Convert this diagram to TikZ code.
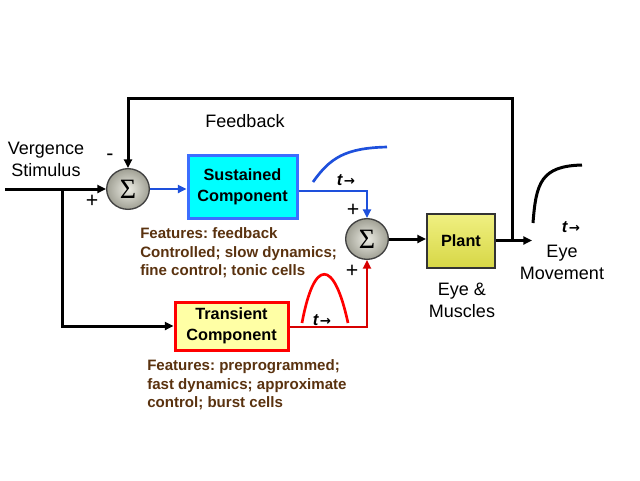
\documentclass[tikz,border=0pt]{standalone}
\usepackage{fontspec}
\setmainfont{Liberation Sans}
\newfontfamily\sigfont{Liberation Serif}
\newfontfamily\arrfont{DejaVu Sans}
\usetikzlibrary{arrows.meta,shapes.geometric}
\definecolor{sumin}{RGB}{236,236,228}
\definecolor{sumout}{RGB}{160,160,148}
\definecolor{susblue}{RGB}{60,110,255}
\definecolor{susfill}{RGB}{0,255,255}
\definecolor{linblue}{RGB}{30,80,220}
\definecolor{plantTop}{RGB}{240,240,130}
\definecolor{plantBot}{RGB}{215,215,70}
\definecolor{transfill}{RGB}{255,255,165}
\definecolor{featbrown}{RGB}{90,50,15}
\definecolor{linred}{RGB}{215,0,0}
\definecolor{curvered}{RGB}{255,0,0}
\frenchspacing
\begin{document}
\begin{tikzpicture}[x=0.75pt,y=-0.75pt,
  line/.style={line width=2.25pt,black},
  bline/.style={line width=2pt,linblue},
  rline/.style={line width=2pt,linred},
  arr/.style={-{Triangle[length=6.5pt,width=6pt]}},
  sumnode/.style={ellipse, draw=black!75, line width=1pt, inner color=sumin, outer color=sumout,
    minimum width=32pt, minimum height=30.5pt, inner sep=0pt, font=\sigfont\fontsize{21}{21}\selectfont},
  lbl/.style={font=\fontsize{13.5}{16.5}\selectfont, align=center, inner sep=0pt},
  boxlbl/.style={font=\bfseries\fontsize{12.2}{15.75}\selectfont, align=center},
  feat/.style={font=\bfseries\fontsize{11.3}{13.9}\selectfont, align=left, text=featbrown, anchor=west, inner sep=0pt},
  pm/.style={font=\fontsize{16}{16}\selectfont, inner sep=0pt},
  tlab/.style={font=\bfseries\itshape\fontsize{12.5}{12.5}\selectfont, inner sep=0pt}
]
\fill[white] (0,0) rectangle (640,480);

% nodes
\node[sumnode] (s1) at (128,189) {Σ};
\node[sumnode] (s2) at (367,239) {Σ};
\node[draw=susblue, line width=2.25pt, fill=susfill, minimum width=81.75pt, minimum height=47.25pt, boxlbl] (sus) at (242.5,187) {Sustained\\Component};
\node[draw=black!80, line width=1.5pt, top color=plantTop, bottom color=plantBot, minimum width=51pt, minimum height=40.5pt, boxlbl] (plant) at (461,240.5) {Plant};
\node[draw=red, line width=2.25pt, fill=transfill, minimum width=84.75pt, minimum height=36pt, boxlbl] (tr) at (231.5,326) {Transient\\Component};

% coordinates
\coordinate (in) at (5,189);
\coordinate (br) at (62,189);
\coordinate (brd) at (62,326);
\coordinate (fbl1) at (128,98);
\coordinate (fbr1) at (512,98);
\coordinate (fb) at (512,240.5);
\coordinate (out) at (532,240.5);
\coordinate (jb) at (367,191);
\coordinate (jr) at (367,327);

% connectors
\draw[line,arr] (in) -- (s1);
\draw[line,arr] (br) -- (brd) -- (tr.west |- brd);
\draw[line,arr] (fb) -- (fbr1) -- (fbl1) -- (s1.north);
\draw[bline,arr] (s1.east) -- (s1.east -| sus.west);
\draw[bline,arr] (sus.east |- jb) -- (jb) -- (s2.north);
\draw[rline,arr] (tr.east |- jr) -- (jr) -- (s2.south);
\draw[line,arr] (s2.east) -- (s2.east -| plant.west);
\draw[line,arr] (plant.east |- out) -- (out);

% response curves
\draw[line width=2pt, linblue] (313,182) .. controls (330,158) and (345,148) .. (387,147);
\draw[line width=2pt, curvered] (302,323) .. controls (314,258) and (334,258) .. (348,323);
\draw[line width=2.25pt, black] (533,223) .. controls (536,183) and (541,166) .. (582,165);

% labels
\node[lbl] (fbl) at (245,121) {Feedback};
\node[lbl] (vs) at (46,159) {Vergence\\Stimulus};
\node[pm] (m1) at (110,157) {-};
\node[pm] (p1) at (92,201) {+};
\node[pm] (p2) at (353,210) {+};
\node[pm] (p3) at (352,271) {+};
\node[lbl] (em) at (562,262.5) {Eye\\Movement};
\node[lbl] (mus) at (462,300) {Eye \&\\Muscles};
\node[feat] (f1) at (140,253) {Features: feedback\\Controlled; slow dynamics;\\fine control; tonic cells};
\node[feat] (f2) at (147,385) {Features: preprogrammed;\\fast dynamics; approximate\\control; burst cells};
\node[tlab] (t1) at (346,180) {t\kern1pt{\arrfont\upshape\fontsize{10}{10}\selectfont →}};
\node[tlab] (t2) at (322,320) {t\kern1pt{\arrfont\upshape\fontsize{10}{10}\selectfont →}};
\node[tlab] (t3) at (571,227) {t\kern1pt{\arrfont\upshape\fontsize{10}{10}\selectfont →}};
\end{tikzpicture}
\end{document}
